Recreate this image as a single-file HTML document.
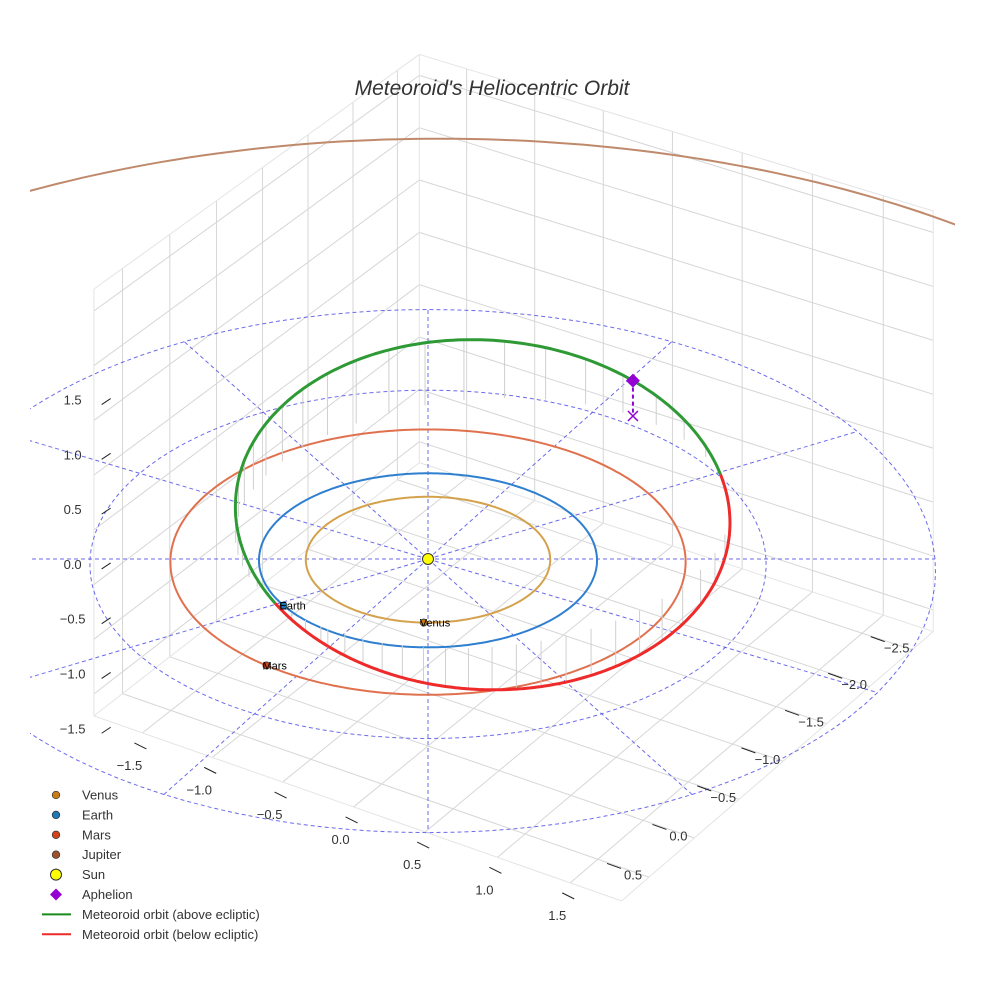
<!DOCTYPE html>
<html><head><meta charset="utf-8"><style>
html,body{margin:0;padding:0;background:#fff;overflow:hidden;}
svg{display:block;font-family:"Liberation Sans",Arial,sans-serif;}
</style></head><body>
<svg id="chart" width="984" height="984" viewBox="0 0 984 984" xmlns="http://www.w3.org/2000/svg">
<defs><clipPath id="scene"><rect x="30" y="0" width="925" height="984"/></clipPath></defs>
<rect width="984" height="984" fill="#fff"/>
<g clip-path="url(#scene)"><g id="grid"></g><g id="ref"></g><g id="orbits"></g><g id="marks"></g></g><g id="axes"></g>
<text x="492" y="95" text-anchor="middle" font-size="21" font-style="italic" fill="#333">Meteoroid's Heliocentric Orbit</text>
<g id="legend"></g>
</svg>
<script>
// ---- data ----
const planetNames = ["Venus","Earth","Mars","Jupiter"];
const planetA = [0.723, 1.0, 1.524, 5.2];
const planetE = [0.0, 0.0, 0.0, 0.015];
const planetPeri = [0, 0, 0, 195];
const planetAngle = [-92, 212, 232, 270];
const planetOrbitColor = ["#d4a24c","#2f7fd0","#e0714e","#bf8a6c"];
const planetMarkColor = ["#c97c16","#1f77b4","#d2441a","#a0522d"];
const meteorA = [1.56];
const meteorE = [0.36];
const meteorIncl = [20];
const meteorNode = [28];
const meteorArgPeri = [207];
const xTicks = [-1.5,-1.0,-0.5,0.0,0.5,1.0,1.5];
const yTicks = [-2.5,-2.0,-1.5,-1.0,-0.5,0.0,0.5];
const zTicks = [-1.5,-1.0,-0.5,0.0,0.5,1.0,1.5,2.0];
const zLabelTicks = [-1.5,-1.0,-0.5,0.0,0.5,1.0,1.5];
const refRadii = [1,2,3];
const refSpokes = [0,30,60,90,120,150,180,210,240,270,300,330];
const boxX = [-1.85,1.85], boxY = [-2.75,0.8], boxZ = [-1.7,2.2];
const labelEdgeX = [-1.7,1.7];

// ---- projection ----
const CX=428, CY=559, KX=169, KY=87, KZ=110, PERS=0.0154;
const d2r=Math.PI/180;
const ex=[Math.cos(-33*d2r),Math.sin(-33*d2r)], ey=[Math.cos(-123*d2r),Math.sin(-123*d2r)];
function W(X,Y,Z){const s=1/(1+PERS*Y);return [CX+KX*X*s, CY-(KY*Y+KZ*Z)*s];}
function P(x,y,z){return W(x*ex[0]+y*ey[0], x*ex[1]+y*ey[1], z);}
const NS="http://www.w3.org/2000/svg";
function mk(tag,attrs,parent){const e=document.createElementNS(NS,tag);for(const k in attrs)e.setAttribute(k,attrs[k]);parent.appendChild(e);return e;}
function pts(a){return a.map(p=>p[0].toFixed(1)+","+p[1].toFixed(1)).join(" ");}
const G=id=>document.getElementById(id);

// ---- box grid ----
const grid=G("grid");
function gl(a,b,col,w){return mk("line",{x1:a[0],y1:a[1],x2:b[0],y2:b[1],stroke:col,"stroke-width":w},grid);}
xTicks.forEach(x=>{const l=gl(P(x,boxY[0],boxZ[0]),P(x,boxY[1],boxZ[0]),"#d6d6d6",1);

});
yTicks.forEach(y=>{const l=gl(P(boxX[0],y,boxZ[0]),P(boxX[1],y,boxZ[0]),"#d6d6d6",1);

});
yTicks.forEach(y=>{const l=gl(P(boxX[0],y,boxZ[0]),P(boxX[0],y,boxZ[1]),"#d6d6d6",1);

});
zTicks.forEach(z=>{const l=gl(P(boxX[0],boxY[0],z),P(boxX[0],boxY[1],z),"#d6d6d6",1);

});
xTicks.forEach(x=>{const l=gl(P(x,boxY[0],boxZ[0]),P(x,boxY[0],boxZ[1]),"#d6d6d6",1);

});
zTicks.forEach(z=>{const l=gl(P(boxX[0],boxY[0],z),P(boxX[1],boxY[0],z),"#d6d6d6",1);

});
[[[0,0,0],[1,0,0]],[[0,0,0],[0,1,0]],[[1,0,0],[1,1,0]],[[0,1,0],[1,1,0]],[[0,0,0],[0,0,1]],[[1,0,0],[1,0,1]],[[0,1,0],[0,1,1]],[[0,0,1],[1,0,1]],[[0,0,1],[0,1,1]]].forEach(e=>{
 const a=P(boxX[e[0][0]],boxY[e[0][1]],boxZ[e[0][2]]), b=P(boxX[e[1][0]],boxY[e[1][1]],boxZ[e[1][2]]);
 const l=gl(a,b,"#e4e4e4",1);
 
 });

// ---- axes labels ----
const axes=G("axes");
function lbl(p,txt,dx,dy,name){const t=mk("text",{x:p[0]+dx,y:p[1]+dy,"text-anchor":"middle","font-size":13,fill:"#333"},axes);t.textContent=txt;

}
function fmt(v){return (v<0?"\u2212":"")+Math.abs(v).toFixed(1);}
xTicks.forEach(x=>{const p=P(x,boxY[1],boxZ[0]);
 const tk=mk("line",{x1:p[0]-8,y1:p[1]+10,x2:p[0]+4,y2:p[1]+16,stroke:"#222","stroke-width":1},axes);
 
 
 lbl(p,fmt(x),-13,37,'x-tick-label');});
yTicks.forEach(y=>{const p=P(labelEdgeX[1],y,boxZ[0]);
 const tk=mk("line",{x1:p[0]-20,y1:p[1]-6,x2:p[0]-6,y2:p[1]-1,stroke:"#222","stroke-width":1},axes);
 
 
 lbl(p,fmt(y),6,10,'y-tick-label');});
zLabelTicks.forEach(z=>{const p=P(labelEdgeX[0],boxY[1],z);
 const tk=mk("line",{x1:p[0]-13,y1:p[1]+32,x2:p[0]-4,y2:p[1]+26,stroke:"#222","stroke-width":1},axes);
 
 
 lbl(p,fmt(z),-42,32,'z-tick-label');});

// ---- ecliptic reference ----
const ref=G("ref");
refRadii.forEach(r=>{const a=[];for(let t=0;t<=360;t+=3)a.push(W(r*Math.cos(t*d2r),r*Math.sin(t*d2r),0));
 const pl=mk("polyline",{points:pts(a),fill:"none",stroke:"rgba(70,70,230,0.8)","stroke-width":1,"stroke-dasharray":"4,3"},ref);
 
 });
refSpokes.forEach(t=>{const r=refRadii[refRadii.length-1];const a=W(0,0,0),b=W(r*Math.cos(t*d2r),r*Math.sin(t*d2r),0);
 const l=mk("line",{x1:a[0],y1:a[1],x2:b[0],y2:b[1],stroke:"rgba(70,70,230,0.8)","stroke-width":1,"stroke-dasharray":"4,3"},ref);
 
 });

// ---- planet orbits ----
const orbits=G("orbits");
function pr(i,t){const a=planetA[i],e=planetE[i];return a*(1-e*e)/(1+e*Math.cos((t-planetPeri[i])*d2r));}
planetNames.forEach((n,i)=>{const a=[];for(let t=0;t<=360;t+=1){const r=pr(i,t);const Y=r*Math.sin(t*d2r);
  if(planetA[i]>3 && Y<0) continue;
  a.push(W(r*Math.cos(t*d2r),Y,0));}
 const pl=mk("polyline",{points:pts(a),fill:"none",stroke:planetOrbitColor[i],"stroke-width":2},orbits);
 
 });

// ---- meteoroid orbit ----
function M(nu){const a=meteorA[0],e=meteorE[0],i=meteorIncl[0]*d2r,O=meteorNode[0]*d2r,w=meteorArgPeri[0]*d2r;
 const r=a*(1-e*e)/(1+e*Math.cos(nu*d2r));const u=w+nu*d2r;
 return [r*(Math.cos(O)*Math.cos(u)-Math.sin(O)*Math.sin(u)*Math.cos(i)), r*(Math.sin(O)*Math.cos(u)+Math.cos(O)*Math.sin(u)*Math.cos(i)), r*Math.sin(u)*Math.sin(i)];}
const marks=G("marks");
for(let nu=0;nu<360;nu+=7){const p=M(nu);const a=W(p[0],p[1],p[2]),b=W(p[0],p[1],0);
 const l=mk("line",{x1:a[0],y1:a[1],x2:b[0],y2:b[1],stroke:"#cfcfcf","stroke-width":1},orbits);
 
 }
let seg=[],above=null;
function flush(){if(seg.length>1){const pl=mk("polyline",{points:pts(seg),fill:"none",stroke:above?"#2e9a35":"#ee2a2a","stroke-width":3,"stroke-linejoin":"round"},orbits);
 
 }}
for(let nu=0;nu<=360;nu+=1){const p=M(nu);const ab=p[2]>=0;const s=W(p[0],p[1],p[2]);
 if(above===null)above=ab;
 if(ab!==above){seg.push(s);flush();seg=[s];above=ab;}else seg.push(s);}
flush();
(function(){const p=M(180);const a=W(p[0],p[1],p[2]),b=W(p[0],p[1],0);
 const l=mk("line",{x1:a[0],y1:a[1],x2:b[0],y2:b[1],stroke:"#9400d3","stroke-width":2,"stroke-dasharray":"4,3"},marks);
 
 
 const x=mk("path",{d:`M${b[0]-5},${b[1]-5}L${b[0]+5},${b[1]+5}M${b[0]+5},${b[1]-5}L${b[0]-5},${b[1]+5}`,stroke:"#9400d3","stroke-width":1.5},marks);
 
 
 const d=mk("path",{d:`M${a[0]},${a[1]-7}L${a[0]+7},${a[1]}L${a[0]},${a[1]+7}L${a[0]-7},${a[1]}Z`,fill:"#9400d3"},marks);
 
 })();
(function(){const s=W(0,0,0);const c=mk("circle",{cx:s[0],cy:s[1],r:5.5,fill:"#ffff00",stroke:"#333","stroke-width":1},marks);
 
 })();
planetNames.forEach((n,i)=>{const t=planetAngle[i],r=pr(i,t);const p=W(r*Math.cos(t*d2r),r*Math.sin(t*d2r),0);
 if(p[0]<30||p[0]>955||p[1]<0||p[1]>960)return;
 const c=mk("circle",{cx:p[0],cy:p[1],r:3.5,fill:planetMarkColor[i],stroke:"#333","stroke-width":0.8},marks);
 
 
 const tx=mk("text",{x:p[0]-4,y:p[1]+4,"font-size":11,fill:"#000"},marks);tx.textContent=n;
 
 });

// ---- legend ----
const lg=G("legend");
const legendLabels=["Venus","Earth","Mars","Jupiter","Sun","Aphelion","Meteoroid orbit (above ecliptic)","Meteoroid orbit (below ecliptic)"];
legendLabels.forEach((t,i)=>{const y=795+i*19.9;
 const g=mk("g",{},lg);
 
 
 if(i<4)mk("circle",{cx:56,cy:y,r:3.8,fill:planetMarkColor[i],stroke:"#333","stroke-width":0.7},g);
 else if(i===4)mk("circle",{cx:56,cy:y,r:5.5,fill:"#ffff00",stroke:"#333","stroke-width":1},g);
 else if(i===5)mk("path",{d:`M56,${y-6}L62,${y}L56,${y+6}L50,${y}Z`,fill:"#9400d3"},g);
 else mk("line",{x1:42,y1:y,x2:71,y2:y,stroke:i===6?"#1a8a1a":"#ee2a2a","stroke-width":2},g);
 const tx=mk("text",{x:82,y:y+4.5,"font-size":13,fill:"#333"},g);tx.textContent=t;});
</script>
</body></html>
